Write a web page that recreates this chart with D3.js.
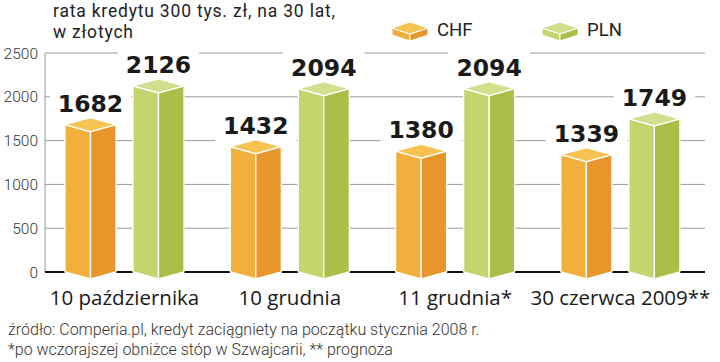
<!DOCTYPE html>
<html><head><meta charset="utf-8">
<script src="https://cdn.jsdelivr.net/npm/d3@7"></script>
<style>body{margin:0;background:#fff}svg{display:block}</style>
</head><body>
<svg id="c" width="720" height="362"></svg>
<script>
const categories = ["10 października", "10 grudnia", "11 grudnia*", "30 czerwca 2009**"];
const seriesNames = ["CHF", "PLN"];
const chfValues = [1682, 1432, 1380, 1339];
const plnValues = [2126, 2094, 2094, 1749];
const yTicks = [0, 500, 1000, 1500, 2000, 2500];
const titleLines = ["rata kredytu 300 tys. zł, na 30 lat,", "w złotych"];
const footerLines = ["źródło: Comperia.pl, kredyt zaciągniety na początku stycznia 2008 r.", "*po wczorajszej obniżce stóp w Szwajcarii, ** prognoza"];

const colors = {
  CHF: {top: "#F6C353", left: "#F2AF3D", right: "#E8952B"},
  PLN: {top: "#D3DF8C", left: "#C4D56E", right: "#A9BF47"}
};

const svg = d3.select("#c");
const y = d3.scaleLinear().domain([0, 2500]).range([272, 53]);
const x0 = d3.scaleBand().domain(categories).range([65, 65 + 4 * 165.3]).paddingInner(0);
const x1 = d3.scaleBand().domain(seriesNames).range([0, 119]).paddingInner(0.25);
const D = 7;
const gridX0 = 45, gridX1 = 705;

// title
svg.append("g").selectAll("text").data(titleLines).join("text")
  .attr("x", 53).attr("y", (d, i) => 17 + i * 21)
  .attr("font-family", "Roboto, sans-serif").attr("font-size", 17.5).attr("letter-spacing", 0.8).attr("fill", "#222")
  .text(d => d);

// gridlines
svg.append("g").selectAll("line").data(yTicks.filter(t => t > 0)).join("line")
  .attr("x1", gridX0).attr("x2", gridX1).attr("y1", d => y(d)).attr("y2", d => y(d))
  .attr("stroke", "#9a9a9a").attr("stroke-width", 1);
// y axis line
svg.append("line").attr("x1", gridX0).attr("x2", gridX0).attr("y1", y(2500)).attr("y2", y(0))
  .attr("stroke", "#9a9a9a").attr("stroke-width", 1);
// tick labels
svg.append("g").selectAll("text").data(yTicks).join("text")
  .attr("x", 38).attr("y", d => y(d) + 5.5).attr("text-anchor", "end")
  .attr("font-family", "Roboto, sans-serif").attr("font-weight", 300).attr("font-size", 15.5).attr("fill", "#333")
  .text(d => d);
// baseline
svg.append("line").attr("x1", gridX0).attr("x2", gridX1).attr("y1", y(0)).attr("y2", y(0))
  .attr("stroke", "#111").attr("stroke-width", 2);

const bars = [];
categories.forEach((c, i) => {
  bars.push({cat: c, s: "CHF", v: chfValues[i]});
  bars.push({cat: c, s: "PLN", v: plnValues[i]});
});

const labelFont = "'DejaVu Sans', sans-serif";
const lbg = svg.append("g");
const barsG = svg.append("g");
const labG = svg.append("g");

bars.forEach(b => {
  const L = x0(b.cat) + x1(b.s);
  const w = x1.bandwidth();
  const R = L + w, c = L + w / 2;
  const yt = y(b.v), yb = y(0);
  const col = colors[b.s];
  const g = barsG.append("g").attr("stroke", "#fff").attr("stroke-width", 1.3).attr("stroke-linejoin", "round");
  g.append("polygon").attr("points", [[L, yt], [c, yt + D], [c, yb + D], [L, yb]].join(" ")).attr("fill", col.left);
  g.append("polygon").attr("points", [[c, yt + D], [R, yt], [R, yb], [c, yb + D]].join(" ")).attr("fill", col.right);
  g.append("polygon").attr("points", [[L, yt], [c, yt - D], [R, yt], [c, yt + D]].join(" ")).attr("fill", col.top);

  const t = labG.append("text").attr("x", c).attr("y", yt - 13).attr("text-anchor", "middle")
    .attr("font-family", labelFont).attr("font-weight", "bold").attr("font-size", 23.5).attr("fill", "#1a1a1a")
    .text(b.v);
  const bb = t.node().getBBox();
  lbg.append("rect").attr("x", bb.x - 8).attr("y", bb.y - 2).attr("width", bb.width + 16).attr("height", bb.height + 4).attr("fill", "#fff");
});

// category labels
svg.append("g").selectAll("text").data(categories).join("text")
  .attr("x", d => x0(d) + 59.5).attr("y", 305).attr("text-anchor", "middle")
  .attr("font-family", "'Open Sans', sans-serif").attr("font-size", 20.5).attr("fill", "#1a1a1a")
  .text(d => d);

// legend
const legX = [392, 542];
seriesNames.forEach((s, i) => {
  const L = legX[i], w = 36, c = L + w / 2, R = L + w;
  const yt = 28, d = 6, h = 7;
  const col = colors[s];
  const g = svg.append("g").attr("stroke", "#fff").attr("stroke-width", 1).attr("stroke-linejoin", "round");
  g.append("polygon").attr("points", [[L, yt], [c, yt + d], [c, yt + d + h], [L, yt + h]].join(" ")).attr("fill", col.left);
  g.append("polygon").attr("points", [[c, yt + d], [R, yt], [R, yt + h], [c, yt + d + h]].join(" ")).attr("fill", col.right);
  g.append("polygon").attr("points", [[L, yt], [c, yt - d], [R, yt], [c, yt + d]].join(" ")).attr("fill", col.top);
  svg.append("text").attr("x", L + 45).attr("y", 36)
    .attr("font-family", "Roboto, sans-serif").attr("font-size", 18.5).attr("fill", "#222").text(s);
});

// footer
svg.append("g").selectAll("text").data(footerLines).join("text")
  .attr("x", 8).attr("y", (d, i) => 335 + i * 20)
  .attr("font-family", "Roboto, sans-serif").attr("font-weight", 300).attr("font-size", 16).attr("fill", "#333")
  .text(d => d);
</script>
</body></html>
